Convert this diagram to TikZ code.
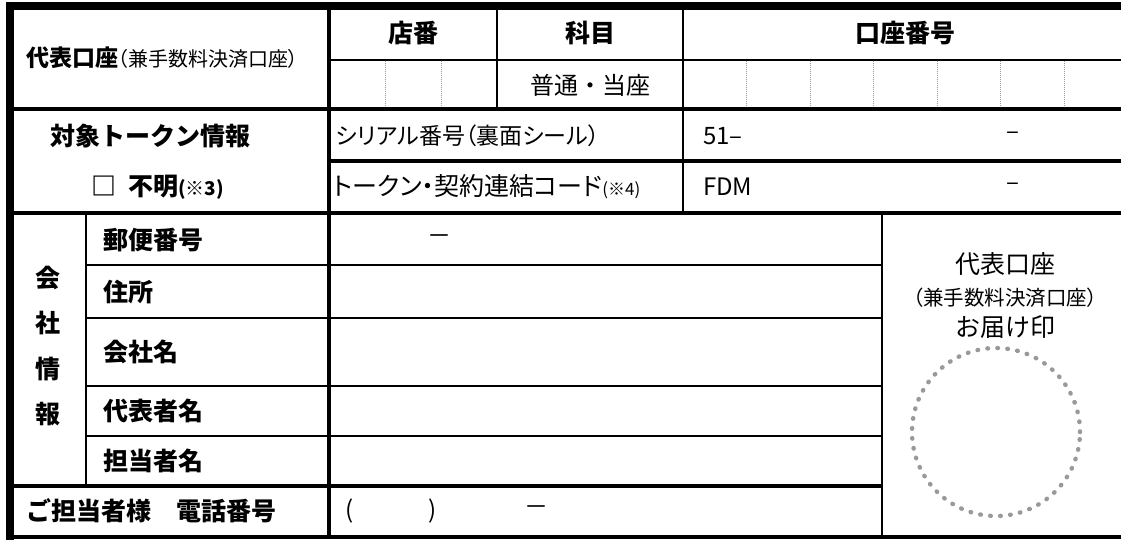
\documentclass[tikz,border=0pt]{standalone}
\usepackage{fontspec}
\setmainfont{Noto Sans CJK JP}
\newfontfamily\pfont{Noto Sans CJK JP}[RawFeature=+palt]

\begin{document}
\begin{tikzpicture}[x=1pt,y=-1pt,
    lbl/.style={font=\fontsize{25}{25}\selectfont\bfseries,inner sep=0pt},
    txt/.style={font=\fontsize{24}{24}\selectfont,inner sep=0pt},
    prop/.style={font=\pfont\fontsize{23}{23}\selectfont,inner sep=0pt},
    heavy/.style={line width=4.5pt},
    rule/.style={line width=2.5pt},
    hair/.style={line width=2pt},
    digit/.style={gray!80,line width=0.8pt,dash pattern=on 1pt off 1pt},
    stampring/.style={circle,draw=gray!80,line width=4.4pt,line cap=round,
      dash pattern=on 0.6pt off 9.4pt,minimum size=168pt,inner sep=0pt}]

    \useasboundingbox (0,0) rectangle (1121,539);

    % frame and account part
    \draw[line width=8.5pt] (10,545) -- (10,6) -- (1130,6);
    \draw[line width=4pt] (10,537) -- (1130,537);
    \draw[hair] (329,60) -- (1130,60);
    \draw[hair] (497,6) -- (497,109);
    \draw[hair] (683,6) -- (683,213);
    \foreach \x in {385,441,746,810,873,937,1000,1064}
      \draw[digit] (\x,61) -- (\x,108);
    \draw[heavy] (10,109) -- (1130,109);
    \draw[heavy] (329,161) -- (1130,161);
    \draw[heavy] (10,213) -- (1130,213);

    % company part
    \draw[hair] (86,213) -- (86,486);
    \foreach \y in {265,318,386,436}
      \draw[rule] (86,\y) -- (882,\y);
    \draw[line width=3.5pt] (10,486) -- (882,486);
    \draw[rule] (882,213) -- (882,539);
    \draw[line width=4pt] (329,6) -- (329,539);

    \node[anchor=west,inner sep=0pt] (acct) at (26,58)
      {{\fontsize{23}{23}\selectfont\bfseries 代表口座}{\pfont\fontsize{20}{20}\selectfont （兼手数料決済口座）}};
    \node[lbl] (shop) at (413,33) {店番};
    \node[lbl] (kind) at (590,33) {科目};
    \node[lbl] (numhd) at (905,33) {口座番号};
    \node[txt] (futsu) at (590,85) {普通・当座};

    \node[lbl] (token) at (150,136) {対象トークン情報};
    \node[lbl,anchor=west] (unknown) at (91,187)
      {□\hspace{12pt}不明{\fontsize{19}{19}\selectfont (※3)}};
    \node[prop,anchor=west] (serial) at (336,136) {シリアル番号（裏面シール）};
    \node[prop,anchor=west,font=\pfont\fontsize{25}{25}\selectfont] (link) at (333,187)
      {トークン・契約連結コード{\fontsize{17}{17}\selectfont (※4)}};
    \node[txt,anchor=west] (serialval) at (703,136) {51–};
    \node[txt] (serialdash) at (1013,136) {–};
    \node[txt,anchor=west] (linkval) at (703,187) {FDM};
    \node[txt] (linkdash) at (1013,187) {–};

    \node[lbl] (vkai) at (48,278) {会};
    \node[lbl] (vsha) at (48,323) {社};
    \node[lbl] (vjo) at (48,369) {情};
    \node[lbl] (vho) at (48,414) {報};
    \node[lbl,anchor=west] (zip) at (103,240) {郵便番号};
    \node[txt] (zipdash) at (439,240) {－};
    \node[lbl,anchor=west] (addr) at (103,292) {住所};
    \node[lbl,anchor=west] (comp) at (103,352) {会社名};
    \node[lbl,anchor=west] (rep) at (103,411) {代表者名};
    \node[lbl,anchor=west] (staff) at (103,461) {担当者名};
    \node[lbl,anchor=west] (tel) at (26,511) {ご担当者様　電話番号};
    \node[txt] (telopen) at (350,511) {(};
    \node[txt] (telclose) at (433,511) {)};
    \node[txt] (teldash) at (536,511) {－};

    \node[txt,font=\fontsize{25}{25}\selectfont] (seal) at (1005,264) {代表口座};
    \node[txt,font=\pfont\fontsize{20.5}{20.5}\selectfont] (sealsub) at (1005,298) {（兼手数料決済口座）};
    \node[txt,font=\fontsize{25}{25}\selectfont] (sealmark) at (1005,327) {お届け印};
    \node[stampring] (stamp) at (996,432) {};
\end{tikzpicture}
\end{document}
